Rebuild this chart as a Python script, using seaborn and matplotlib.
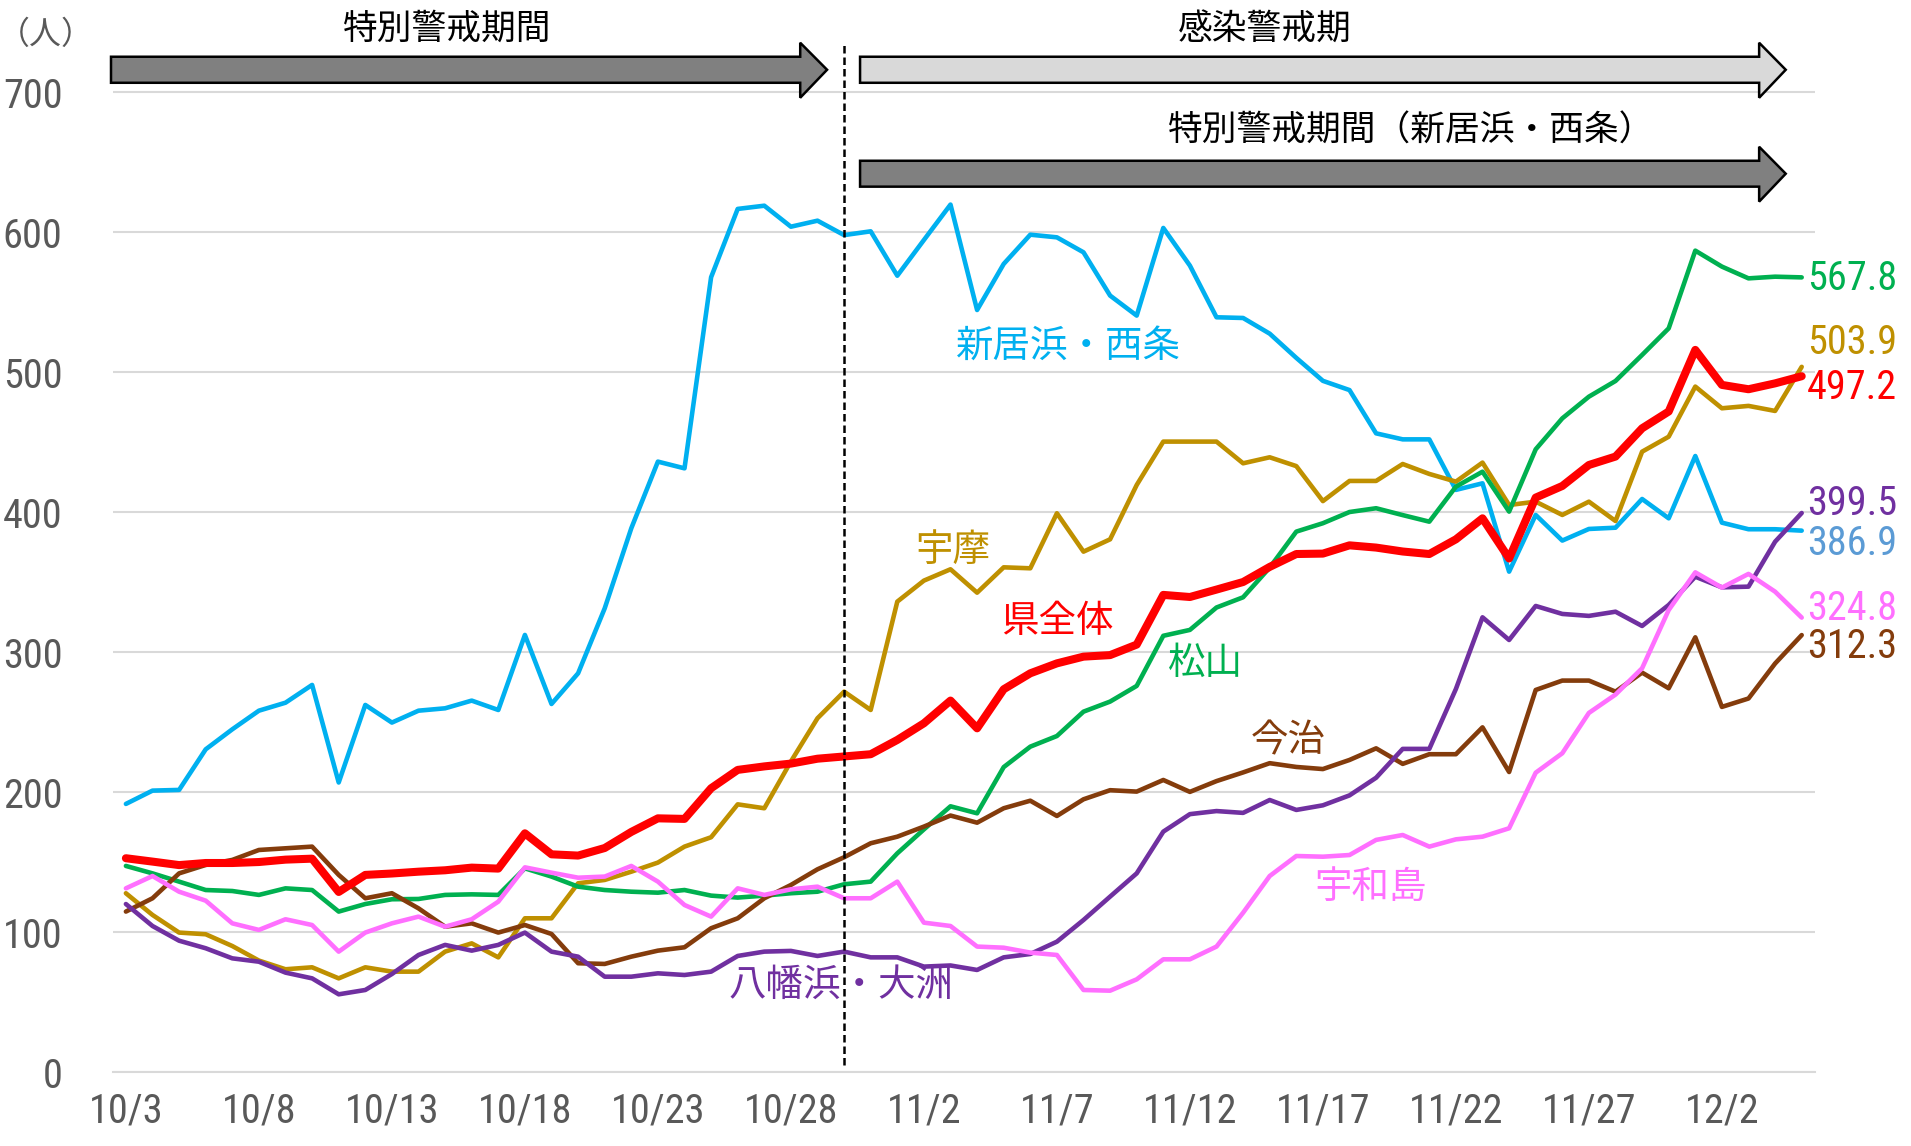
import numpy as np
import pandas as pd
import matplotlib
matplotlib.use("Agg")
import matplotlib.pyplot as plt
from matplotlib import font_manager as fm
from matplotlib.patches import Polygon
import seaborn as sns

# 10/3 .. 12/5 (64 days)
dates = pd.date_range("2020-10-03", "2020-12-05", freq="D")
tick_labels = ["10/3", "10/8", "10/13", "10/18", "10/23", "10/28", "11/2",
               "11/7", "11/12", "11/17", "11/22", "11/27", "12/2"]

niihama = [191.7, 201.2, 201.7, 230.7, 245.0, 258.3, 264.0, 276.7, 207.0, 262.4,
           249.8, 258.3, 260.0, 265.5, 258.8, 312.4, 263.1, 285.0, 331.4, 388.6,
           436.2, 431.4, 567.9, 616.7, 619.0, 604.0, 608.3, 598.0, 600.7, 569.0,
           594.5, 619.8, 544.5, 577.4, 598.3, 596.4, 585.7, 554.8, 540.5, 603.1,
           576.2, 539.3, 538.8, 527.6, 510.3, 493.9, 487.3, 456.4, 452.1, 452.1,
           416.0, 420.7, 357.6, 398.1, 379.8, 388.1, 389.0, 409.5, 395.7, 440.2,
           392.6, 387.9, 387.9, 386.9]
uma = [127.9, 112.4, 99.8, 98.6, 90.2, 79.8, 73.6, 75.0, 67.1, 75.0,
       71.9, 71.9, 86.2, 92.1, 82.1, 110.0, 110.0, 135.0, 137.4, 143.3,
       149.8, 161.2, 167.9, 191.4, 188.6, 222.0, 252.9, 271.9, 258.8, 336.2,
       351.2, 359.3, 342.6, 360.7, 360.0, 399.3, 371.9, 380.7, 419.5, 450.5,
       450.5, 450.5, 435.0, 439.3, 433.0, 408.0, 422.4, 422.4, 434.5, 427.4,
       421.9, 435.5, 405.2, 407.6, 398.1, 407.6, 393.8, 443.3, 454.0, 489.8,
       474.3, 476.0, 472.4, 503.9]
matsuyama = [147.4, 142.1, 136.2, 130.2, 129.5, 126.7, 131.4, 130.2, 114.8, 120.2,
             123.6, 123.8, 126.7, 127.1, 126.7, 145.7, 139.8, 132.6, 130.2, 129.0,
             128.3, 130.2, 126.2, 124.8, 126.2, 127.9, 129.0, 134.3, 136.2, 156.4,
             173.5, 190.0, 185.0, 218.0, 232.6, 240.2, 257.6, 264.8, 276.0, 311.8,
             316.0, 332.0, 339.3, 360.5, 386.2, 392.2, 400.2, 402.9, 398.0, 393.3,
             418.3, 429.0, 400.5, 445.0, 467.1, 482.6, 493.8, 512.4, 531.4, 586.9,
             575.5, 567.1, 568.3, 567.8]
imabari = [114.8, 124.3, 142.1, 148.1, 151.7, 158.8, 160.0, 161.2, 141.0, 124.3,
           127.9, 117.1, 104.0, 106.4, 99.8, 105.2, 98.8, 77.9, 77.4, 82.6,
           86.9, 89.3, 102.9, 110.0, 124.3, 133.8, 145.0, 153.6, 163.6, 168.3,
           175.5, 183.4, 178.3, 188.6, 194.0, 183.1, 195.0, 201.5, 200.5, 208.8,
           200.3, 208.0, 214.2, 220.8, 218.1, 216.6, 223.1, 231.4, 220.3, 227.2,
           227.2, 246.4, 214.5, 273.1, 279.8, 279.8, 271.9, 285.5, 274.3, 310.7,
           261.0, 267.0, 292.0, 312.3]
uwajima = [131.4, 140.2, 129.0, 122.6, 106.4, 101.7, 109.3, 105.2, 86.2, 99.8,
           106.4, 111.2, 104.0, 109.3, 121.9, 146.4, 142.6, 139.0, 139.8, 147.4,
           136.2, 119.5, 111.2, 131.4, 126.7, 130.7, 132.6, 124.3, 124.3, 136.2,
           106.9, 104.5, 89.8, 89.0, 85.5, 83.8, 58.8, 58.3, 66.4, 80.7,
           80.7, 89.8, 114.0, 140.2, 154.5, 154.0, 155.2, 166.0, 169.5, 161.2,
           166.4, 168.3, 174.3, 214.0, 227.9, 256.7, 269.8, 288.6, 330.2, 357.1,
           346.2, 356.0, 343.3, 324.8]
yawatahama = [120.2, 104.5, 94.0, 88.6, 81.4, 79.0, 71.2, 67.1, 55.7, 58.8,
              70.2, 83.8, 91.0, 86.9, 91.0, 99.8, 86.2, 82.6, 68.3, 68.3,
              70.7, 69.5, 71.9, 83.1, 86.2, 86.7, 83.1, 86.2, 82.1, 82.1,
              75.5, 76.3, 73.1, 82.1, 84.5, 93.3, 108.8, 125.5, 142.1, 171.9,
              184.4, 186.6, 185.3, 194.5, 187.4, 190.7, 197.8, 210.4, 231.0, 231.0,
              273.8, 325.0, 308.8, 333.1, 327.4, 326.0, 329.0, 318.8, 333.8, 354.0,
              346.4, 346.9, 379.0, 399.5]
ken = [152.9, 150.5, 148.0, 149.5, 149.5, 150.2, 151.9, 152.6, 128.8, 141.0,
       142.0, 143.3, 144.3, 146.2, 145.5, 170.7, 155.7, 154.8, 160.2, 171.7,
       181.4, 181.0, 202.9, 216.0, 218.5, 220.5, 224.0, 225.6, 227.2, 237.4,
       249.3, 265.5, 245.7, 273.6, 285.0, 292.1, 296.9, 298.0, 305.5, 341.0,
       339.5, 344.8, 350.2, 361.0, 370.2, 370.5, 376.4, 374.8, 372.0, 370.2,
       380.7, 395.7, 367.0, 410.5, 418.8, 433.8, 439.8, 460.0, 472.0, 516.0,
       491.0, 487.9, 492.1, 497.2]

sns.set_style("white")
cjk = ["Noto Sans CJK JP", "DejaVu Sans"]
names = {f.name for f in fm.fontManager.ttflist}
narrow = next((n for n in ["Liberation Sans Narrow", "Roboto Condensed", "Open Sans Condensed"]
               if n in names), "Liberation Sans")
plt.rcParams["font.family"] = cjk
plt.rcParams["lines.solid_joinstyle"] = "round"
plt.rcParams["lines.solid_capstyle"] = "round"

fig = plt.figure(figsize=(19.11, 11.46), dpi=100)
ax = fig.add_axes([112.6 / 1911, 73.7 / 1146, (1815 - 112.6) / 1911, 1072.3 / 1146])

x = np.arange(len(dates))
series = [
    (niihama, "#00B0F0", 3.3),
    (uma, "#BF9000", 3.3),
    (matsuyama, "#00B050", 3.3),
    (imabari, "#843C0C", 3.3),
    (yawatahama, "#7030A0", 3.3),
    (uwajima, "#FF6FFF", 3.3),
    (ken, "#FF0000", 5.8),
]
for vals, col, lw in series:
    sns.lineplot(x=x, y=vals, color=col, linewidth=lw, ax=ax, legend=False)

ax.set_xlim(-0.5, 63.5)
ax.set_ylim(0, 1072.3 / 1.4)
ax.set_yticks(range(0, 701, 100))
ax.set_yticklabels([str(v) for v in range(0, 701, 100)], family=narrow, fontsize=29, color="#595959")
ax.tick_params(axis="y", length=0, pad=36)
ax.grid(axis="y", color="#D9D9D9", linewidth=1.5)
ax.set_axisbelow(True)

ax.set_xticks(np.arange(-0.5, 60, 5))
ax.set_xticklabels([])
ax.tick_params(axis="x", which="major", length=8, width=1.5, color="#D9D9D9")
ax.set_xticks(np.arange(0, 61, 5), minor=True)
ax.set_xticklabels(tick_labels, minor=True, family=narrow, fontsize=29, color="#595959")
ax.tick_params(axis="x", which="minor", length=0, pad=14)
ax.set_xlabel("")
ax.set_ylabel("")
for s in ["top", "right", "left"]:
    ax.spines[s].set_visible(False)
ax.spines["bottom"].set_color("#D9D9D9")
ax.spines["bottom"].set_linewidth(1.5)

# boundary at 10/30
ax.plot([27, 27], [5, 734], color="black", lw=1.8, linestyle=(0, (3, 1.6)), clip_on=False)


def arrow(x0, x1, xt, yb0, yb1, yh0, yh1, fc):
    ym = (yb0 + yb1) / 2
    pts = [(x0, yb0), (x1, yb0), (x1, yh0), (xt, ym), (x1, yh1), (x1, yb1), (x0, yb1)]
    ax.add_patch(Polygon(pts, closed=True, facecolor=fc, edgecolor="black",
                         linewidth=1.8, clip_on=False, zorder=5))


arrow(-0.56, 25.35, 26.36, 706.8, 725.4, 696.1, 735.4, "#808080")
arrow(27.6, 61.4, 62.4, 706.8, 725.4, 696.1, 735.4, "#D9D9D9")
arrow(27.6, 61.4, 62.4, 632.6, 651.1, 621.9, 661.1, "#808080")

ax.text(12.07, 745, "特別警戒期間", fontsize=25, ha="center", va="center", color="black")
ax.text(42.8, 744, "感染警戒期", fontsize=25, ha="center", va="center", color="black")
ax.text(48.3, 672, "特別警戒期間（新居浜・西条）", fontsize=25, ha="center", va="center", color="black")
ax.text(-3.0, 741, "（人）", fontsize=23, ha="center", va="center", color="#595959")

# series names
names_pos = [
    ("新居浜・西条", 35.45, 519, "#00B0F0"),
    ("宇摩", 31.1, 373, "#BF9000"),
    ("県全体", 35.0, 322, "#FF0000"),
    ("松山", 40.6, 292, "#00B050"),
    ("今治", 43.7, 237, "#843C0C"),
    ("宇和島", 46.8, 132, "#FF6FFF"),
    ("八幡浜・大洲", 26.9, 62, "#7030A0"),
]
for txt, tx, ty, col in names_pos:
    ax.text(tx, ty, txt, fontsize=27, ha="center", va="center", color=col)

# end values
end_labels = [
    ("567.8", 567, "#00B050"),
    ("503.9", 521, "#BF9000"),
    ("497.2", 489, "#FF0000"),
    ("399.5", 406, "#7030A0"),
    ("386.9", 378, "#5B9BD5"),
    ("324.8", 331, "#FF6FFF"),
    ("312.3", 304, "#843C0C"),
]
for txt, ty, col in end_labels:
    ax.text(63.2, ty, txt, fontsize=29, ha="left", va="center", color=col,
            family=narrow, clip_on=False)

fig.savefig("out.png", dpi=100)
